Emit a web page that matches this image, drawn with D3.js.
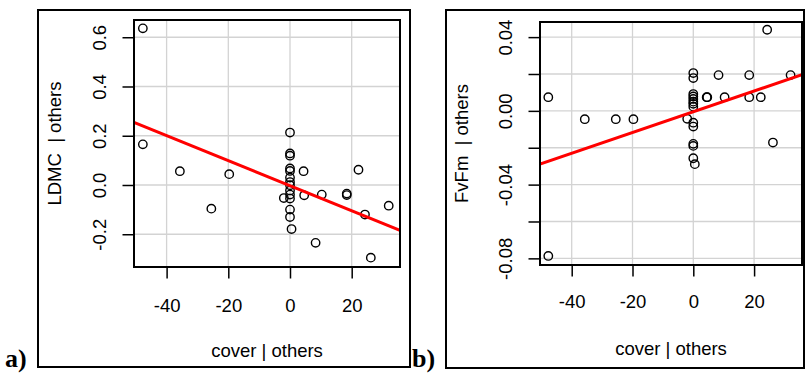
<!DOCTYPE html>
<html>
<head>
<meta charset="utf-8">
<script src="https://cdn.jsdelivr.net/npm/d3@7"></script>
<style>
  html, body { margin: 0; padding: 0; background: #fff; }
  svg { display: block; }
</style>
</head>
<body>
<svg id="chart" width="805" height="373"></svg>
<script>
// Added-variable (partial regression) data: cover | others against each trait | others
const cover = [-47.7, -47.7, -35.7, -25.5, -19.7, -2.0,
  0, 0, 0, 0, 0, 0, 0, 0, 0, 0, 0, 0, 0, 0.5,
  4.4, 4.6, 8.3, 10.3, 18.4, 18.4, 22.2, 24.3, 26.2, 32.0];

const ldmc = [0.636, 0.165, 0.056, -0.096, 0.044, -0.053,
  0.213, 0.128, 0.119, 0.067, 0.057, 0.030, 0.012, -0.001, -0.022, -0.039, -0.055, -0.100, -0.130, -0.179,
  0.056, -0.042, -0.235, -0.039, -0.035, -0.041, 0.062, -0.120, -0.295, -0.084];

const fvfm = [-0.0787, 0.0074, -0.0045, -0.0045, -0.0045, -0.0043,
  0.0205, 0.0178, 0.0091, 0.0078, 0.0065, 0.0050, 0.0038, 0.0023, -0.0064, -0.0085, -0.0179, -0.0190, -0.0257, -0.0289,
  0.0074, 0.0074, 0.0194, 0.0074, 0.0194, 0.0074, 0.0074, 0.0440, -0.0172, 0.0194];

// fitted regression lines (panel a, panel b)
const fitSlope = [-0.00508, 0.000562];
const fitIntercept = [-0.003, -0.0005];

const xTicks = [-40, -20, 0, 20];
const xLabels = ["-40", "-20", "0", "20"];
const yTicksA = [-0.2, 0.0, 0.2, 0.4, 0.6];
const yLabelsA = ["-0.2", "0.0", "0.2", "0.4", "0.6"];
const yTicksB = [-0.08, -0.06, -0.04, -0.02, 0.00, 0.02, 0.04];
const yLabelsB = ["-0.08", "", "-0.04", "", "0.00", "", "0.04"];

const panelTags = ["a)", "b)"];
const yTitles = ["LDMC\u00a0\u00a0| others", "FvFm\u00a0\u00a0| others"];
const xTitle = "cover | others";

const sans = "'Liberation Sans', Arial, sans-serif";
const serif = "'Liberation Serif', 'Times New Roman', serif";

const svg = d3.select("#chart");

const panels = [
  {
    tag: panelTags[0], yTitle: yTitles[0], y: ldmc,
    yTicks: yTicksA, yLabels: yLabelsA,
    outer: {x0: 38, y0: 10, x1: 410, y1: 367},
    plot: {left: 134, top: 20, right: 400, bottom: 267},
    xDomain: [-50.57, 35.66], yDomain: [-0.333, 0.670],
    tagX: 5, tagY: 367, xLabBase: 45, xTitleY: 357, yTitleX: 61,
    slope: fitSlope[0], intercept: fitIntercept[0]
  },
  {
    tag: panelTags[1], yTitle: yTitles[1], y: fvfm,
    yTicks: yTicksB, yLabels: yLabelsB,
    outer: {x0: 446, y0: 10, x1: 804, y1: 368},
    plot: {left: 540, top: 22, right: 802, bottom: 265},
    xDomain: [-50.43, 35.76], yDomain: [-0.0836, 0.0482],
    tagX: 412, tagY: 367, xLabBase: 43, xTitleY: 355, yTitleX: 468,
    slope: fitSlope[1], intercept: fitIntercept[1]
  }
];

const fontSize = "18.5px";
const tickLen = 11.5;

panels.forEach((p, i) => {
  const g = svg.append("g");
  const pl = p.plot;
  const x = d3.scaleLinear().domain(p.xDomain).range([pl.left, pl.right]);
  const y = d3.scaleLinear().domain(p.yDomain).range([pl.bottom, pl.top]);

  // figure frame
  g.append("rect")
    .attr("x", p.outer.x0).attr("y", p.outer.y0)
    .attr("width", p.outer.x1 - p.outer.x0).attr("height", p.outer.y1 - p.outer.y0)
    .attr("fill", "none").attr("stroke", "#000").attr("stroke-width", 2);

  // grid
  g.append("g").selectAll("line").data(xTicks).join("line")
    .attr("x1", d => x(d)).attr("x2", d => x(d))
    .attr("y1", pl.top).attr("y2", pl.bottom)
    .attr("stroke", "#d3d3d3").attr("stroke-width", 1.3);
  g.append("g").selectAll("line").data(p.yTicks).join("line")
    .attr("x1", pl.left).attr("x2", pl.right)
    .attr("y1", d => y(d)).attr("y2", d => y(d))
    .attr("stroke", "#d3d3d3").attr("stroke-width", 1.3);

  // x axis
  const xa = g.append("g")
    .attr("transform", `translate(0,${pl.bottom})`)
    .call(d3.axisBottom(x).tickValues(xTicks).tickSize(tickLen)
      .tickFormat((d, k) => xLabels[k]));
  xa.select(".domain").remove();
  xa.selectAll("line").attr("stroke", "#000").attr("stroke-width", 1.5);
  xa.selectAll("text")
    .attr("y", p.xLabBase).attr("dy", null)
    .style("font-size", fontSize).style("font-family", sans)
    .attr("fill", "#000");

  // y axis
  const ya = g.append("g")
    .attr("transform", `translate(${pl.left},0)`)
    .call(d3.axisLeft(y).tickValues(p.yTicks).tickSize(tickLen)
      .tickFormat((d, k) => p.yLabels[k]));
  ya.select(".domain").remove();
  ya.selectAll("line").attr("stroke", "#000").attr("stroke-width", 1.5);
  ya.selectAll("text")
    .attr("x", null).attr("dy", null)
    .attr("transform", "translate(-28,0) rotate(-90)")
    .attr("text-anchor", "middle")
    .style("font-size", fontSize).style("font-family", sans)
    .attr("fill", "#000");

  // clip for the fitted line
  const clipId = "clip" + i;
  g.append("clipPath").attr("id", clipId)
    .append("rect").attr("x", pl.left).attr("y", pl.top)
    .attr("width", pl.right - pl.left).attr("height", pl.bottom - pl.top);

  // points
  g.append("g").selectAll("circle").data(cover).join("circle")
    .attr("cx", d => x(d)).attr("cy", (d, k) => y(p.y[k]))
    .attr("r", 4.2)
    .attr("fill", "none").attr("stroke", "#000").attr("stroke-width", 1.4);

  // fitted regression line
  const xs = p.xDomain;
  g.append("line")
    .attr("clip-path", `url(#${clipId})`)
    .attr("x1", x(xs[0])).attr("y1", y(p.intercept + p.slope * xs[0]))
    .attr("x2", x(xs[1])).attr("y2", y(p.intercept + p.slope * xs[1]))
    .attr("stroke", "#ff0000").attr("stroke-width", 3);

  // plot box
  g.append("rect")
    .attr("x", pl.left).attr("y", pl.top)
    .attr("width", pl.right - pl.left).attr("height", pl.bottom - pl.top)
    .attr("fill", "none").attr("stroke", "#000").attr("stroke-width", 2);

  // axis titles
  g.append("text")
    .attr("x", (pl.left + pl.right) / 2).attr("y", p.xTitleY)
    .attr("text-anchor", "middle")
    .style("font-size", fontSize).style("font-family", sans)
    .text(xTitle);
  g.append("text")
    .attr("transform", `translate(${p.yTitleX},${(pl.top + pl.bottom) / 2}) rotate(-90)`)
    .attr("text-anchor", "middle")
    .style("font-size", fontSize).style("font-family", sans)
    .text(p.yTitle);

  // panel tag
  g.append("text")
    .attr("x", p.tagX).attr("y", p.tagY)
    .style("font-family", serif)
    .style("font-weight", "bold").style("font-size", "26px")
    .text(p.tag);
});
</script>
</body>
</html>
